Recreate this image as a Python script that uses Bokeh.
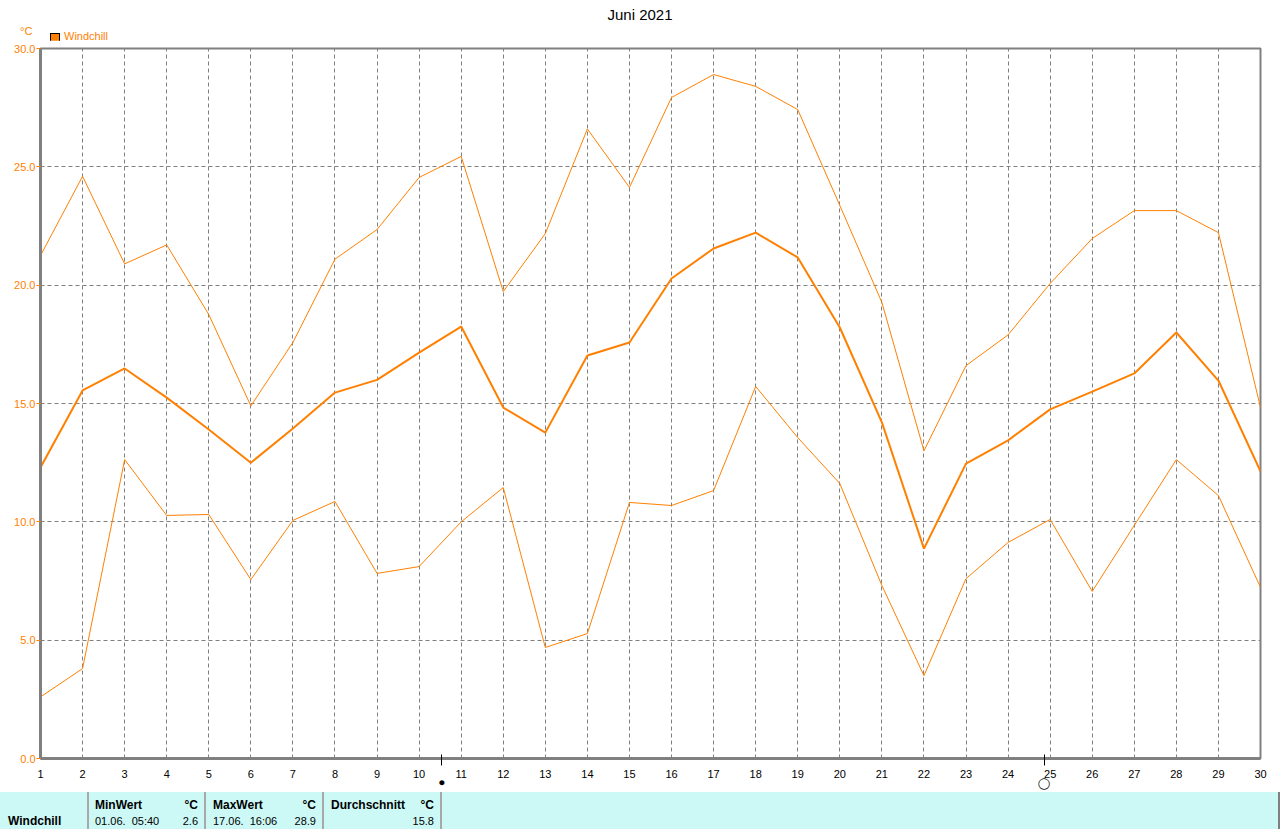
from bokeh.plotting import figure
from bokeh.models import (Range1d, FixedTicker, NumeralTickFormatter, Div)
from bokeh.layouts import column
from bokeh.embed import file_html
from bokeh.resources import INLINE

# ---------------- data ----------------
days = list(range(1, 31))
windchill_mean = [12.3, 15.55, 16.48, 15.25, 13.9, 12.5, 13.94, 15.46, 16.0, 17.15,
                  18.25, 14.83, 13.77, 17.03, 17.58, 20.28, 21.55, 22.22, 21.17, 18.21,
                  14.2, 8.87, 12.46, 13.44, 14.75, 15.5, 16.27, 18.0, 15.97, 12.13]
windchill_max = [21.25, 24.6, 20.9, 21.7, 18.76, 14.9, 17.58, 21.1, 22.35, 24.55,
                 25.44, 19.73, 22.18, 26.6, 24.13, 27.93, 28.9, 28.4, 27.42, 23.37,
                 19.27, 13.0, 16.6, 17.9, 20.07, 21.97, 23.15, 23.15, 22.22, 14.83]
windchill_min = [2.6, 3.8, 12.63, 10.27, 10.31, 7.56, 10.06, 10.86, 7.82, 8.11,
                 10.0, 11.45, 4.69, 5.28, 10.82, 10.69, 11.32, 15.72, 13.56, 11.62,
                 7.31, 3.5, 7.6, 9.13, 10.1, 7.06, 9.85, 12.63, 11.11, 7.23]
y_ticks = [0, 5, 10, 15, 20, 25, 30]
moon_days = [10.54, 24.86]
moon_symbols = ["\u26AB\uFE0E", "\u25EF"]

title_text = "Juni 2021"
series_name = "Windchill"
unit = "\u00B0C"
stat_headers = ["MinWert", "MaxWert", "Durchschnitt"]
stat_times = ["01.06.  05:40", "17.06.  16:06", ""]
stat_values = [2.6, 28.9, 15.8]

# ---------------- style ----------------
ORANGE = "#FF8000"
GRAY = "#808080"
FONT = "Liberation Sans"
CYAN = "#CCF8F6"

# ---------------- header (title + legend) ----------------
header_html = f"""
<div style="position:relative;width:1280px;height:40px;font-family:'{FONT}';background:white;">
  <span style="position:absolute;left:0;top:6px;width:1280px;text-align:center;font-size:15px;line-height:18px;color:black;">{title_text}</span>
  <span style="position:absolute;left:20px;top:25px;font-size:11px;line-height:13px;color:{ORANGE};">{unit}</span>
  <span style="position:absolute;left:50px;top:33px;width:10px;height:10px;box-sizing:border-box;border:1px solid black;background:{ORANGE};"></span>
  <span style="position:absolute;left:64px;top:30px;font-size:11px;line-height:13px;color:{ORANGE};">{series_name}</span>
</div>
"""
header = Div(text=header_html, width=1280, height=40, margin=0)

# ---------------- main chart ----------------
p = figure(width=1280, height=762, x_range=Range1d(1, 30), y_range=Range1d(0, 30),
           output_backend="svg", toolbar_location=None,
           min_border_left=40, min_border_right=20, min_border_top=8, min_border_bottom=44,
           background_fill_color="white", border_fill_color="white", margin=0)
p.outline_line_color = GRAY
p.outline_line_width = 2

# bottom axis: day labels, moon-phase marks (minor ticks) and moon symbols (second label line)
label_overrides = {d: str(d) for d in days}
label_overrides.update({md: "\n" + sym for md, sym in zip(moon_days, moon_symbols)})
xax = p.xaxis[0]
xax.ticker = FixedTicker(ticks=sorted(days + moon_days), minor_ticks=moon_days)
xax.major_label_overrides = label_overrides
xax.axis_line_color = GRAY
xax.axis_line_width = 3
xax.major_tick_line_color = None
xax.major_tick_in = 0
xax.major_tick_out = 0
xax.minor_tick_line_color = "black"
xax.minor_tick_line_width = 1
xax.minor_tick_in = 4
xax.minor_tick_out = 7
xax.major_label_standoff = 2
xax.major_label_text_font = f"{FONT}, DejaVu Sans"
xax.major_label_text_font_size = "11px"
xax.major_label_text_line_height = 0.75
xax.major_label_text_color = "black"

p.xgrid.ticker = FixedTicker(ticks=days)

p.yaxis.ticker = FixedTicker(ticks=y_ticks)
p.yaxis.formatter = NumeralTickFormatter(format="0.0")
p.yaxis.axis_line_color = GRAY
p.yaxis.axis_line_width = 3
p.yaxis.minor_tick_line_color = None
p.yaxis.major_tick_in = 0
p.yaxis.major_tick_out = 4
p.yaxis.major_tick_line_color = ORANGE
p.yaxis.major_label_standoff = 1
p.yaxis.major_label_text_font = FONT
p.yaxis.major_label_text_font_size = "11px"
p.yaxis.major_label_text_color = ORANGE

p.grid.grid_line_color = GRAY
p.grid.grid_line_dash = "4 3"
p.grid.grid_line_width = 1

p.line(days, windchill_max, line_color=ORANGE, line_width=1)
p.line(days, windchill_min, line_color=ORANGE, line_width=1)
p.line(days, windchill_mean, line_color=ORANGE, line_width=2)

# ---------------- statistics table ----------------
col_left = [95, 213, 331]
col_right = [198, 316, 434]
sep_x = [87, 204, 322, 440]

parts = [f"<div style=\"position:relative;width:1280px;height:37px;background:{CYAN};"
         f"font-family:'{FONT}';color:black;overflow:hidden;\">"]
for sx in sep_x:
    parts.append(f"<div style=\"position:absolute;left:{sx}px;top:0;width:2px;height:37px;background:#A8A8A8;\"></div>")
parts.append(f"<div style=\"position:absolute;left:1278px;top:0;width:2px;height:37px;background:{GRAY};\"></div>")
parts.append(f"<span style=\"position:absolute;left:8px;top:22px;font-size:12px;line-height:15px;font-weight:bold;\">{series_name}</span>")
for xl, xr, hd, tm, v in zip(col_left, col_right, stat_headers, stat_times, stat_values):
    parts.append(f"<span style=\"position:absolute;left:{xl}px;top:6px;font-size:12px;line-height:15px;font-weight:bold;\">{hd}</span>")
    parts.append(f"<span style=\"position:absolute;right:{1280 - xr}px;top:6px;font-size:12px;line-height:15px;font-weight:bold;\">{unit}</span>")
    if tm:
        parts.append(f"<span style=\"position:absolute;left:{xl}px;top:23px;font-size:11px;line-height:13px;white-space:pre;\">{tm}</span>")
    parts.append(f"<span style=\"position:absolute;right:{1280 - xr}px;top:23px;font-size:11px;line-height:13px;\">{v:.1f}</span>")
parts.append("</div>")
table = Div(text="".join(parts), width=1280, height=37, margin=(-10, 0, 0, 0),
            styles={"position": "relative", "z-index": "5"})

layout = column(header, p, table, spacing=0)
open("out.html", "w").write(file_html(layout, INLINE))
